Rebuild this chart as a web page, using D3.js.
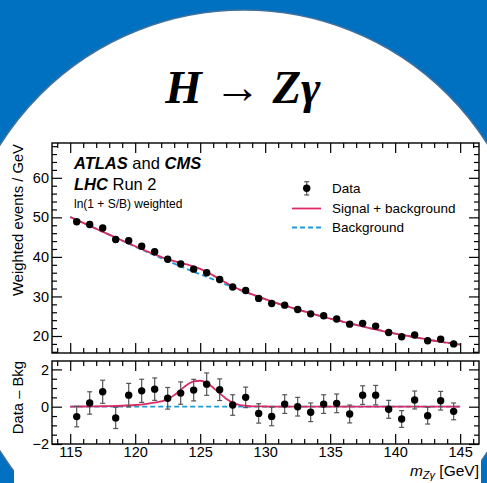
<!DOCTYPE html>
<html>
<head>
<meta charset="utf-8">
<script src="https://cdn.jsdelivr.net/npm/d3@7"></script>
<style>
body { margin: 0; background: #0070c0; }
svg { display: block; }
</style>
</head>
<body>
<div id="viz"></div>
<script>
// bin centres (GeV)
var massBins = [115.5, 116.5, 117.5, 118.5, 119.5, 120.5, 121.5, 122.5, 123.5, 124.5,
                125.5, 126.5, 127.5, 128.5, 129.5, 130.5, 131.5, 132.5, 133.5, 134.5,
                135.5, 136.5, 137.5, 138.5, 139.5, 140.5, 141.5, 142.5, 143.5, 144.5];
// weighted events / GeV
var weighted = [48.9, 48.2, 47.3, 44.4, 44.1, 42.7, 41.3, 39.4, 38.2, 36.9,
                36.0, 34.3, 32.4, 31.5, 29.5, 28.2, 27.8, 26.7, 25.6, 25.1,
                24.3, 23.0, 23.2, 22.5, 20.9, 19.8, 20.25, 18.8, 19.2, 18.0];
// data - bkg
var residual = [-0.53, 0.2, 0.8, -0.6, 0.62, 0.85, 0.94, 0.45, 0.73, 0.89,
                1.21, 0.91, 0.09, 0.5, -0.36, -0.52, 0.14, 0.0, -0.3, 0.14,
                0.18, -0.39, 0.62, 0.62, -0.14, -0.66, 0.36, -0.48, 0.32, -0.25];
var residualErr = [0.55, 0.6, 0.62, 0.57, 0.63, 0.62, 0.6, 0.58, 0.6, 0.58,
                   0.6, 0.58, 0.55, 0.55, 0.52, 0.5, 0.5, 0.5, 0.5, 0.5,
                   0.5, 0.48, 0.5, 0.52, 0.48, 0.45, 0.48, 0.45, 0.5, 0.45];
// fitted curves
var curveMass = [115, 116, 117, 118, 119, 120, 121, 121.5, 122, 122.5, 123, 123.5, 124, 124.5,
                 125, 125.5, 126, 126.5, 127, 127.5, 128, 128.5, 129, 130, 131, 132, 133, 134,
                 135, 136, 137, 138, 139, 140, 141, 142, 143, 144, 145];
var bkgCurve = [50.1, 48.6, 47.1, 45.6, 44.1, 42.6, 41.1, 40.4, 39.7, 39.0, 38.3, 37.6, 36.9, 36.25,
                35.6, 34.95, 34.3, 33.65, 33.0, 32.35, 31.7, 31.1, 30.5, 29.3, 28.2, 27.2, 26.2, 25.3,
                24.4, 23.6, 22.8, 22.0, 21.3, 20.6, 20.0, 19.4, 18.8, 18.3, 17.8];
var sigCurve = [0.0, 0.01, 0.02, 0.03, 0.05, 0.09, 0.17, 0.22, 0.29, 0.40, 0.62, 0.9, 1.18, 1.36,
                1.39, 1.27, 1.02, 0.72, 0.43, 0.22, 0.10, 0.05, 0.02, 0.01, 0, 0, 0, 0,
                0, 0, 0, 0, 0, 0, 0, 0, 0, 0, 0];

var massTicks = [115, 120, 125, 130, 135, 140, 145];
var mainTicks = [20, 30, 40, 50, 60];
var ratioTicks = [-2, 0, 2];

var w = 487, h = 483;
var red = "#dc2a62", blue = "#2299dd";
var font = "'Liberation Sans', Arial, sans-serif";

var svg = d3.select("#viz").append("svg")
	.attr("width", w)
	.attr("height", h);

svg.append("rect").attr("width", w).attr("height", h).style("fill", "#0070c0");
svg.append("circle")
	.attr("cx", 244).attr("cy", 298).attr("r", 288)
	.style("fill", "white")
	.style("stroke", "#41719c")
	.style("stroke-width", 1.5);
svg.append("rect")
	.attr("x", 14).attr("y", 140).attr("width", 467).attr("height", 343)
	.style("fill", "white");

// title
var title = svg.append("text")
	.attr("x", 243).attr("y", 103)
	.attr("text-anchor", "middle")
	.style("font-family", "'Liberation Serif', 'DejaVu Serif', serif")
	.style("font-size", "47px");
title.append("tspan").style("font-weight", "bold").style("font-style", "italic").text("H");
title.append("tspan").text(" \u2192 ");
title.append("tspan").style("font-weight", "bold").style("font-style", "italic").text("Z\u03b3");

var x = d3.scaleLinear().domain([113.6, 146.45]).range([52, 479]);
var yMain = d3.scaleLinear().domain([15.7, 68.8]).range([353, 143]);
var yRatio = d3.scaleLinear().domain([-2, 2.45]).range([444, 361]);

var minorX = d3.range(114, 147, 1).filter(function(d){ return d % 5 != 0; });
var minorMain = d3.range(16, 69, 2).filter(function(d){ return d % 10 != 0; });
var minorRatio = d3.range(-1.5, 2.5, 0.5).filter(function(d){ return d % 2 != 0; });
var fmt = d3.format("d");

function drawAxes(y, yTicks, yMinor, showX){
	var y0 = y.range()[0], y1 = y.range()[1];
	var g = svg.append("g");
	function add(axis, tx, ty, labels){
		var a = g.append("g")
			.attr("transform", "translate(" + tx + "," + ty + ")")
			.call(axis);
		a.select(".domain").remove();
		a.selectAll("line").style("stroke", "black").style("stroke-width", 1.2);
		if (!labels) a.selectAll("text").remove();
		else a.selectAll("text").style("font-family", font).style("font-size", "14.5px").style("fill", "black");
		return a;
	}
	add(d3.axisBottom(x).tickValues(massTicks).tickFormat(fmt).tickSize(-10).tickPadding(3), 0, y0, showX);
	add(d3.axisBottom(x).tickValues(minorX).tickSize(-5), 0, y0, false);
	add(d3.axisTop(x).tickValues(massTicks).tickSize(-10), 0, y1, false);
	add(d3.axisTop(x).tickValues(minorX).tickSize(-5), 0, y1, false);
	add(d3.axisLeft(y).tickValues(yTicks).tickFormat(fmt).tickSize(-10).tickPadding(3), 52, 0, true);
	add(d3.axisLeft(y).tickValues(yMinor).tickSize(-5), 52, 0, false);
	add(d3.axisRight(y).tickValues(yTicks).tickSize(-10), 479, 0, false);
	add(d3.axisRight(y).tickValues(yMinor).tickSize(-5), 479, 0, false);
	g.append("rect")
		.attr("x", 52).attr("y", y1)
		.attr("width", 427).attr("height", y0 - y1)
		.style("fill", "none").style("stroke", "black").style("stroke-width", 1.4);
}

function drawPoints(y, vals, errs){
	var g = svg.append("g");
	var pts = g.selectAll("g").data(massBins).enter().append("g");
	pts.append("line")
		.attr("x1", function(d){ return x(d); })
		.attr("x2", function(d){ return x(d); })
		.attr("y1", function(d, i){ return y(vals[i] - errs[i]); })
		.attr("y2", function(d, i){ return y(vals[i] + errs[i]); })
		.style("stroke", "#555").style("stroke-width", 1.2);
	[-1, 1].forEach(function(s){
		pts.append("line")
			.attr("x1", function(d){ return x(d) - 2.5; })
			.attr("x2", function(d){ return x(d) + 2.5; })
			.attr("y1", function(d, i){ return y(vals[i] + s * errs[i]); })
			.attr("y2", function(d, i){ return y(vals[i] + s * errs[i]); })
			.style("stroke", "#555").style("stroke-width", 1.2);
	});
	pts.append("circle")
		.attr("cx", function(d){ return x(d); })
		.attr("cy", function(d, i){ return y(vals[i]); })
		.attr("r", 3.7)
		.style("fill", "black");
}

// main panel
var lineMain = d3.line()
	.x(function(d){ return x(d[0]); })
	.y(function(d){ return yMain(d[1]); })
	.curve(d3.curveMonotoneX);
svg.append("path")
	.attr("d", lineMain(curveMass.map(function(m, i){ return [m, bkgCurve[i]]; })))
	.style("fill", "none").style("stroke", blue).style("stroke-width", 1.8).style("stroke-dasharray", "5,3");
svg.append("path")
	.attr("d", lineMain(curveMass.map(function(m, i){ return [m, bkgCurve[i] + sigCurve[i]]; })))
	.style("fill", "none").style("stroke", red).style("stroke-width", 1.8);
drawPoints(yMain, weighted, residualErr);
drawAxes(yMain, mainTicks, minorMain, false);

// ratio panel
var lineRatio = d3.line()
	.x(function(d){ return x(d[0]); })
	.y(function(d){ return yRatio(d[1]); })
	.curve(d3.curveMonotoneX);
svg.append("path")
	.attr("d", lineRatio(curveMass.map(function(m){ return [m, 0]; })))
	.style("fill", "none").style("stroke", blue).style("stroke-width", 1.8).style("stroke-dasharray", "5,3");
svg.append("path")
	.attr("d", lineRatio(curveMass.map(function(m, i){ return [m, sigCurve[i]]; })))
	.style("fill", "none").style("stroke", red).style("stroke-width", 1.8);
drawPoints(yRatio, residual, residualErr);
drawAxes(yRatio, ratioTicks, minorRatio, true);

// axis titles
svg.append("text")
	.attr("transform", "translate(23,144) rotate(-90)")
	.attr("text-anchor", "end")
	.style("font-family", font).style("font-size", "14.8px")
	.text("Weighted events / GeV");
svg.append("text")
	.attr("transform", "translate(23,361) rotate(-90)")
	.attr("text-anchor", "end")
	.style("font-family", font).style("font-size", "14.8px")
	.text("Data \u2013 Bkg");
var xt = svg.append("text")
	.attr("x", 479).attr("y", 476)
	.attr("text-anchor", "end")
	.style("font-family", font).style("font-size", "15.5px");
xt.append("tspan").style("font-style", "italic").text("m");
xt.append("tspan").style("font-style", "italic").style("font-size", "11px").attr("dy", 3).text("Z\u03b3");
xt.append("tspan").attr("dy", -3).text(" [GeV]");

// labels
var t1 = svg.append("text").attr("x", 74).attr("y", 169)
	.style("font-family", font).style("font-size", "16.5px");
t1.append("tspan").style("font-weight", "bold").style("font-style", "italic").text("ATLAS");
t1.append("tspan").text(" and ");
t1.append("tspan").style("font-weight", "bold").style("font-style", "italic").text("CMS");
var t2 = svg.append("text").attr("x", 74).attr("y", 190)
	.style("font-family", font).style("font-size", "16.5px");
t2.append("tspan").style("font-weight", "bold").style("font-style", "italic").text("LHC");
t2.append("tspan").text(" Run 2");
svg.append("text").attr("x", 74).attr("y", 208)
	.style("font-family", font).style("font-size", "12px")
	.text("ln(1 + S/B) weighted");

// legend
var lg = svg.append("g");
lg.append("line").attr("x1", 306.7).attr("x2", 306.7).attr("y1", 181.7).attr("y2", 195)
	.style("stroke", "#555").style("stroke-width", 1.2);
lg.append("line").attr("x1", 304.2).attr("x2", 309.2).attr("y1", 181.7).attr("y2", 181.7)
	.style("stroke", "#555").style("stroke-width", 1.2);
lg.append("line").attr("x1", 304.2).attr("x2", 309.2).attr("y1", 195).attr("y2", 195)
	.style("stroke", "#555").style("stroke-width", 1.2);
lg.append("circle").attr("cx", 306.7).attr("cy", 188.3).attr("r", 3.7).style("fill", "black");
lg.append("line").attr("x1", 292).attr("x2", 321).attr("y1", 208.5).attr("y2", 208.5)
	.style("stroke", red).style("stroke-width", 1.8);
lg.append("line").attr("x1", 292).attr("x2", 321).attr("y1", 227.5).attr("y2", 227.5)
	.style("stroke", blue).style("stroke-width", 1.8).style("stroke-dasharray", "5,3");
[["Data", 193.3], ["Signal + background", 212.7], ["Background", 231.7]].forEach(function(d){
	lg.append("text").attr("x", 332).attr("y", d[1])
		.style("font-family", font).style("font-size", "13.5px")
		.text(d[0]);
});
</script>
</body>
</html>
